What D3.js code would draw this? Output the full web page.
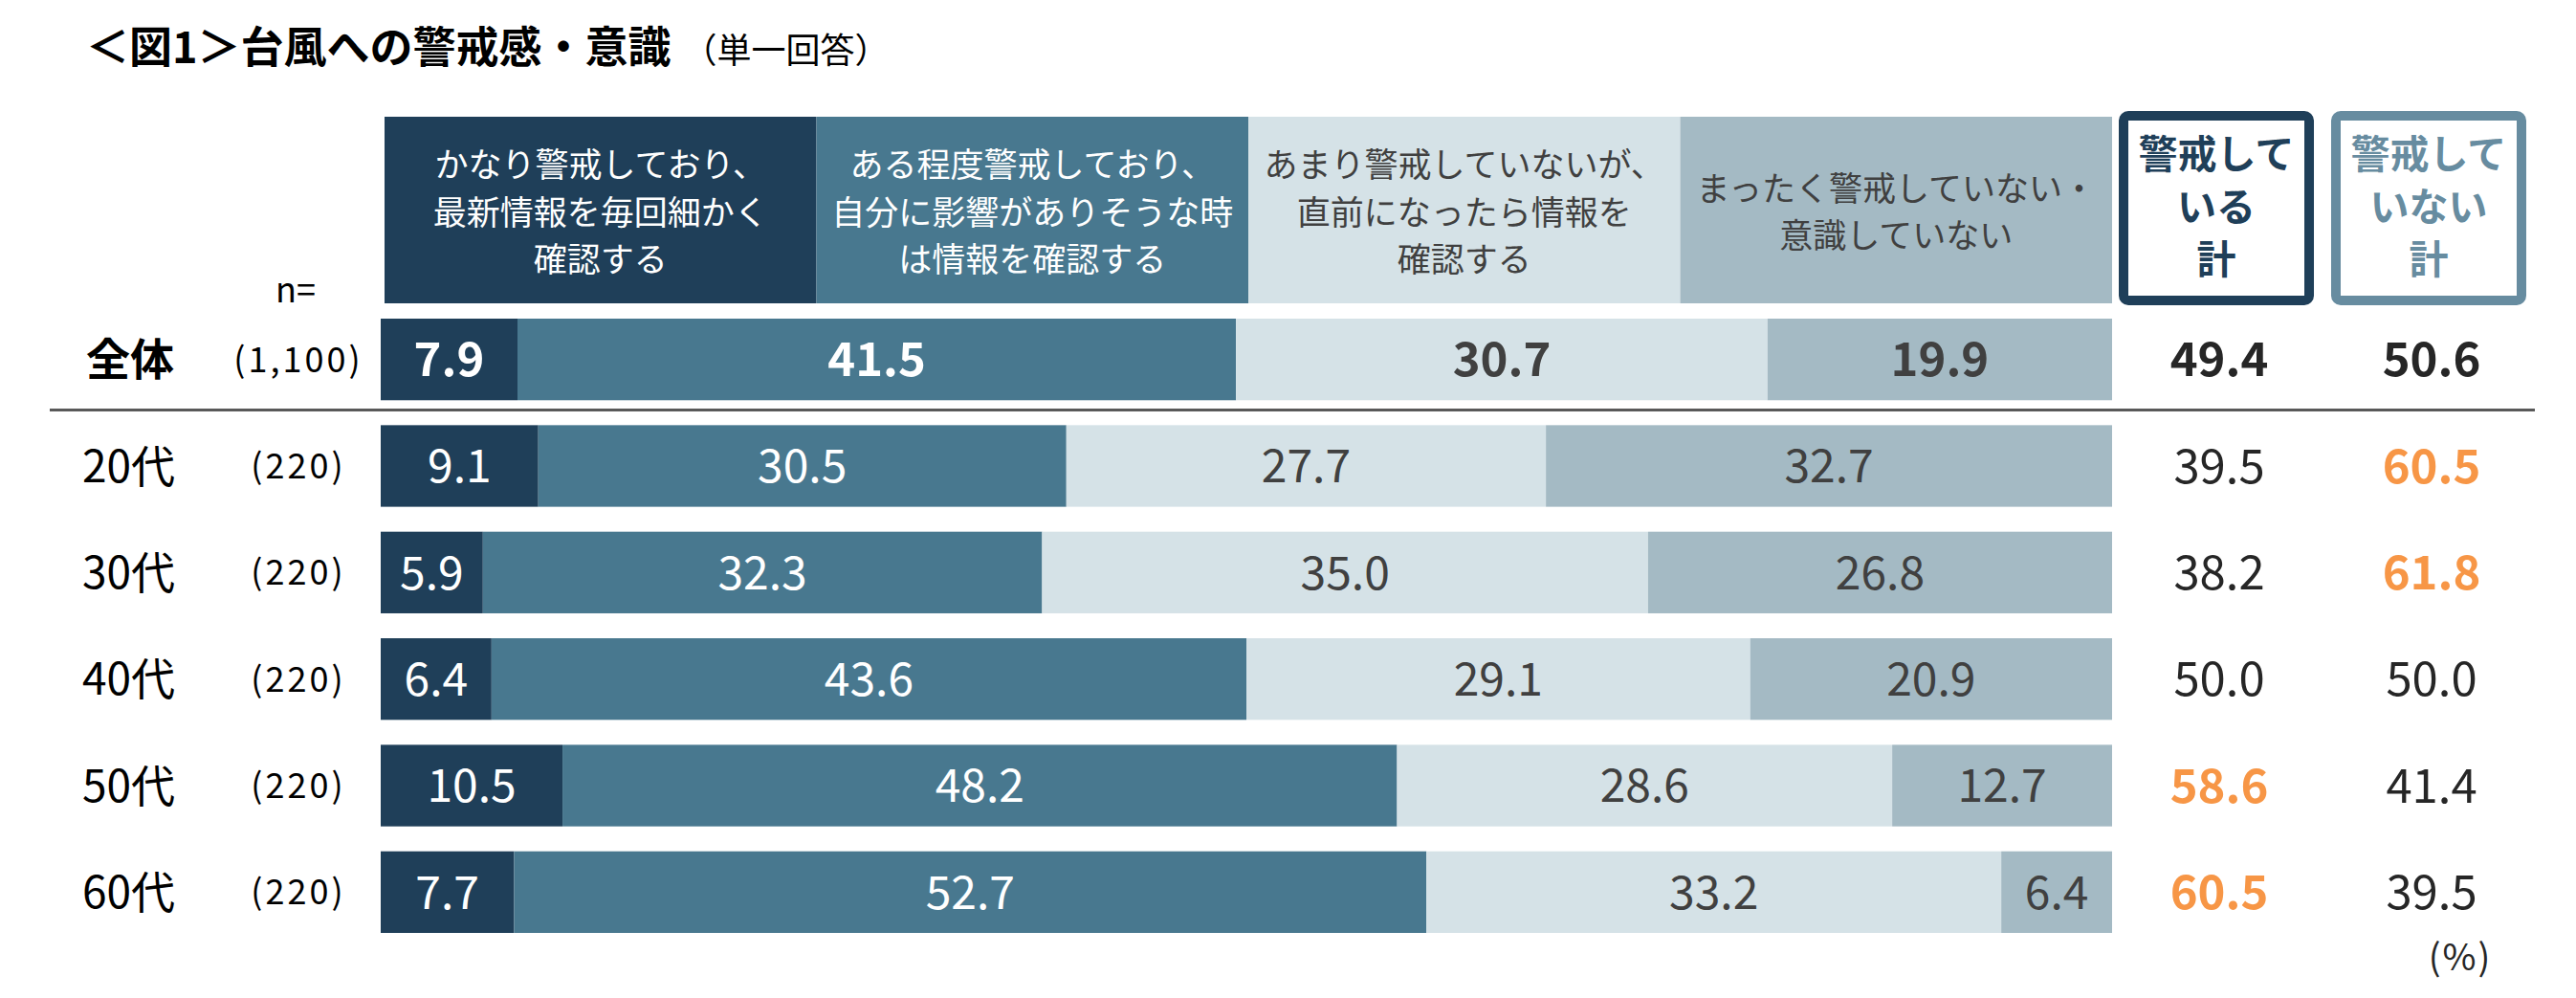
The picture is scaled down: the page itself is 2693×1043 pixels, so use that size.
<!DOCTYPE html>
<html>
<head>
<meta charset="utf-8">
<script src="https://cdn.jsdelivr.net/npm/d3@7"></script>
<style>
   body { margin: 0; background: #fff; }
   svg text { font-family: "Noto Sans CJK JP", "Noto Sans", sans-serif; }
</style>
</head>
<body>
<svg id="chart" width="2693" height="1043"></svg>
<script>
// row labels and sample sizes
var categories = ["全体", "20代", "30代", "40代", "50代", "60代"];
var sampleSizes = ["(1,100)", "(220)", "(220)", "(220)", "(220)", "(220)"];

// answer shares (%) per row
var veryCautious   = [7.9, 9.1, 5.9, 6.4, 10.5, 7.7];
var someCautious   = [41.5, 30.5, 32.3, 43.6, 48.2, 52.7];
var littleCautious = [30.7, 27.7, 35.0, 29.1, 28.6, 33.2];
var notCautious    = [19.9, 32.7, 26.8, 20.9, 12.7, 6.4];

// summary columns
var cautiousTotal    = [49.4, 39.5, 38.2, 50.0, 58.6, 60.5];
var notCautiousTotal = [50.6, 60.5, 61.8, 50.0, 41.4, 39.5];

var legendLabels = [
   ["かなり警戒しており、", "最新情報を毎回細かく", "確認する"],
   ["ある程度警戒しており、", "自分に影響がありそうな時", "は情報を確認する"],
   ["あまり警戒していないが、", "直前になったら情報を", "確認する"],
   ["まったく警戒していない・", "意識していない"]
];
var totalLabels = [["警戒して", "いる", "計"], ["警戒して", "いない", "計"]];

var segColors  = ["#1f3f59", "#48788f", "#d5e2e7", "#a4bac4"];
var segText    = ["#ffffff", "#ffffff", "#404040", "#404040"];
var boxColors  = ["#1f3f59", "#678ca0"];
var orange     = "#f79646";

var svg = d3.select("#chart");

var x = d3.scaleLinear().domain([0, 100]).range([398, 2208]);
var y = d3.scaleBand().domain(categories).range([333, 975]).paddingInner(0.234);
var legendX = d3.scaleBand().domain(d3.range(4)).range([402, 2208]);
var totalX = d3.scaleBand().domain([0, 1]).range([2215, 2641]).paddingInner(0.081);

// stack the four series per row
var rows = categories.map(function(c, i){
   return {cat: c, n: sampleSizes[i],
      vals: [veryCautious[i], someCautious[i], littleCautious[i], notCautious[i]],
      totals: [cautiousTotal[i], notCautiousTotal[i]]};
});
var stack = d3.stack().keys(d3.range(4)).value(function(d, k){ return d.vals[k]; })(rows);

// title
var title = svg.append("text")
   .attr("x", 90).attr("y", 66)
   .attr("fill", "#000");
title.append("tspan").attr("font-size", 45).attr("font-weight", 700).text("＜図1＞台風への警戒感・意識");
title.append("tspan").attr("font-size", 36).attr("dx", 12).text("（単一回答）");

// legend header boxes
legendLabels.forEach(function(lines, k){
   svg.append("rect")
      .attr("x", legendX(k)).attr("y", 122)
      .attr("width", legendX.bandwidth()).attr("height", 195)
      .attr("fill", segColors[k]);
   var cx = legendX(k) + legendX.bandwidth() / 2;
   var startY = 222 - (lines.length - 1) * 49.5 / 2;
   lines.forEach(function(t, j){
      svg.append("text")
         .attr("x", cx).attr("y", startY + j * 49.5)
         .attr("dy", "0.36em")
         .attr("text-anchor", "middle")
         .attr("font-size", 35)
         .attr("fill", segText[k])
         .text(t);
   });
});

// summary column header boxes
totalLabels.forEach(function(lines, k){
   svg.append("rect")
      .attr("x", totalX(k) + 5).attr("y", 121)
      .attr("width", totalX.bandwidth() - 10).attr("height", 193)
      .attr("rx", 5)
      .attr("fill", "#fff")
      .attr("stroke", boxColors[k])
      .attr("stroke-width", 10);
   var cx = totalX(k) + totalX.bandwidth() / 2;
   lines.forEach(function(t, j){
      svg.append("text")
         .attr("x", cx).attr("y", 161 + j * 55)
         .attr("dy", "0.36em")
         .attr("text-anchor", "middle")
         .attr("font-size", 41)
         .attr("font-weight", 700)
         .attr("fill", boxColors[k])
         .text(t);
   });
});

svg.append("text")
   .attr("x", 288).attr("y", 303)
   .attr("dy", "0.36em")
   .attr("font-size", 36)
   .attr("fill", "#000")
   .text("n=");

// separator under the overall row
svg.append("line")
   .attr("x1", 52).attr("x2", 2650)
   .attr("y1", 428.5).attr("y2", 428.5)
   .attr("stroke", "#595959")
   .attr("stroke-width", 3);

// bar segments
stack.forEach(function(layer, k){
   svg.selectAll("rect.seg" + k)
      .data(layer)
      .enter()
      .append("rect")
      .attr("class", "seg" + k)
      .attr("x", function(d){ return x(d[0]); })
      .attr("y", function(d){ return y(d.data.cat); })
      .attr("width", function(d){ return x(d[1]) - x(d[0]); })
      .attr("height", y.bandwidth())
      .attr("fill", segColors[k]);

   svg.selectAll("text.seg" + k)
      .data(layer)
      .enter()
      .append("text")
      .attr("class", "seg" + k)
      .attr("x", function(d){ return (x(d[0]) + x(d[1])) / 2; })
      .attr("y", function(d){ return y(d.data.cat) + y.bandwidth() / 2; })
      .attr("dy", "0.36em")
      .attr("text-anchor", "middle")
      .attr("font-size", function(d, i){ return i == 0 ? 49 : 48; })
      .attr("font-weight", function(d, i){ return i == 0 ? 700 : 400; })
      .attr("fill", segText[k])
      .text(function(d){ return d.data.vals[k].toFixed(1); });
});

// row labels
svg.selectAll("text.cat")
   .data(rows)
   .enter()
   .append("text")
   .attr("class", "cat")
   .attr("x", function(d, i){ return i == 0 ? 90 : 86; })
   .attr("y", function(d){ return y(d.cat) + y.bandwidth() / 2; })
   .attr("dy", "0.36em")
   .attr("font-size", 46)
   .attr("font-weight", function(d, i){ return i == 0 ? 700 : 400; })
   .attr("fill", "#000")
   .text(function(d){ return d.cat; });

svg.selectAll("text.n")
   .data(rows)
   .enter()
   .append("text")
   .attr("class", "n")
   .attr("x", 312)
   .attr("y", function(d){ return y(d.cat) + y.bandwidth() / 2; })
   .attr("dy", "0.36em")
   .attr("text-anchor", "middle")
   .attr("font-size", 36)
   .attr("letter-spacing", 3)
   .attr("fill", "#000")
   .text(function(d){ return d.n; });

// summary values: orange when 5pt or more above the overall figure
[0, 1].forEach(function(k){
   var overall = rows[0].totals[k];
   svg.selectAll("text.total" + k)
      .data(rows)
      .enter()
      .append("text")
      .attr("class", "total" + k)
      .attr("x", totalX(k) + totalX.bandwidth() / 2 + 3)
      .attr("y", function(d){ return y(d.cat) + y.bandwidth() / 2; })
      .attr("dy", "0.36em")
      .attr("text-anchor", "middle")
      .attr("font-size", 49)
      .attr("font-weight", function(d, i){
         return (i == 0 || d.totals[k] - overall >= 5) ? 700 : 400;
      })
      .attr("fill", function(d, i){
         if(i > 0 && d.totals[k] - overall >= 5) return orange;
         return "#262626";
      })
      .text(function(d){ return d.totals[k].toFixed(1); });
});

svg.append("text")
   .attr("x", 2572).attr("y", 1000)
   .attr("dy", "0.36em")
   .attr("text-anchor", "middle")
   .attr("font-size", 38)
   .attr("letter-spacing", 2)
   .attr("fill", "#262626")
   .text("(%)");
</script>
</body>
</html>
